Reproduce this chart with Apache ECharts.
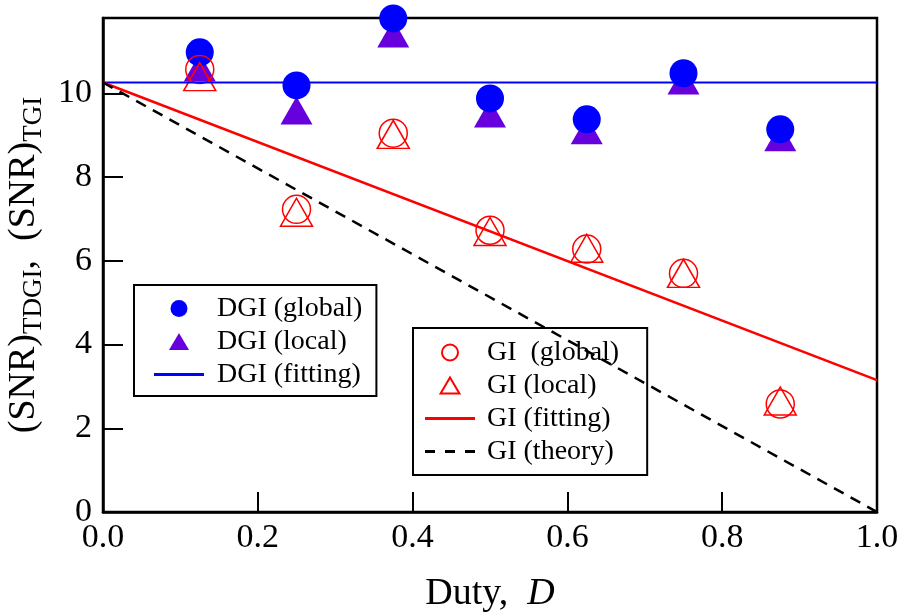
<!DOCTYPE html>
<html>
<head>
<meta charset="utf-8">
<script src="https://cdn.jsdelivr.net/npm/echarts@6/dist/echarts.min.js"></script>
<style>
    html, body {margin: 0; padding: 0; background: #fff;}
    #main {width: 902px; height: 616px;}
</style>
</head>
<body>
<div id="main"></div>
<script>
var duty = [0.125, 0.25, 0.375, 0.5, 0.625, 0.75, 0.875];
var dgiGlobal = [10.98, 10.19, 11.79, 9.88, 9.38, 10.48, 9.14];
var dgiLocal = [10.62, 9.59, 11.43, 9.52, 9.12, 10.31, 8.95];
var giGlobal = [10.57, 7.23, 9.05, 6.73, 6.28, 5.70, 2.58];
var giLocal = [10.40, 7.16, 9.02, 6.70, 6.30, 5.70, 2.65];

// fitted / theory lines, end points at D = 0 and D = 1
var lineX = [0, 1];
var dgiFit = [10.26, 10.26];
var giFit = [10.26, 3.15];
var giTheory = [10.26, 0];

var xTicks = [0, 0.2, 0.4, 0.6, 0.8, 1.0];
var yTicks = [0, 2, 4, 6, 8, 10];

var FONT = 'Liberation Serif';

// legend icons
var TRI = 'path://M10,0L20,17L0,17Z';
var BAR = 'path://M0,0h50v3h-50z';
var DASH = 'path://M0,0h10v3h-10z M20,0h10v3h-10z M40,0h10v3h-10z';

function pairs(xs, ys) {
    var out = [];
    for (var i = 0; i < xs.length; i++) {
        out.push([xs[i], ys[i]]);
    }
    return out;
}

function hollow(color) {
    return {color: 'rgba(255,255,255,0)', borderColor: color, borderWidth: 1.5, opacity: 1};
}

var myChart = echarts.init(document.getElementById('main'));
var option = {
    animation: false,
    backgroundColor: '#fff',
    grid: {
        left: 103, right: 25, top: 18, bottom: 104,
        outerBoundsMode: 'none',
        show: true, borderColor: '#000', borderWidth: 2.5
    },
    legend: [
        {
            orient: 'vertical', left: 134, top: 285,
            padding: [7, 14, 5, 20], itemGap: 0, itemWidth: 50, itemHeight: 17,
            symbolKeepAspect: true,
            borderColor: '#000', borderWidth: 2, selectedMode: false,
            data: [
                {name: 'DGI (global)', icon: 'circle'},
                {name: 'DGI (local)', icon: TRI},
                {name: 'DGI (fitting)', icon: BAR}
            ],
            textStyle: {fontFamily: FONT, fontSize: 28, color: '#000', lineHeight: 33, padding: [0, 0, 0, 8]}
        },
        {
            orient: 'vertical', left: 413, top: 328,
            padding: [8, 28, 7, 12], itemGap: 0, itemWidth: 50, itemHeight: 16,
            symbolKeepAspect: true,
            borderColor: '#000', borderWidth: 2, selectedMode: false,
            data: [
                {name: 'GI  (global)', icon: 'circle'},
                {name: 'GI (local)', icon: TRI},
                {name: 'GI (fitting)', icon: BAR},
                {name: 'GI (theory)', icon: DASH}
            ],
            textStyle: {fontFamily: FONT, fontSize: 28, color: '#000', lineHeight: 33, padding: [0, 0, 0, 7]}
        }
    ],
    xAxis: {
        type: 'value', min: 0, max: 1, interval: 0.2,
        name: '{a|Duty,  }{b|D}', nameLocation: 'middle', nameGap: 63,
        nameTextStyle: {
            rich: {
                a: {fontFamily: FONT, fontSize: 38, color: '#000'},
                b: {fontFamily: FONT, fontSize: 38, color: '#000', fontStyle: 'italic'}
            }
        },
        axisLine: {show: true, lineStyle: {color: '#000', width: 2.5}},
        axisTick: {show: true, inside: true, length: 20, lineStyle: {color: '#000', width: 2}},
        axisLabel: {
            fontFamily: FONT, fontSize: 34, color: '#000', margin: 9,
            formatter: function (v) {
                return xTicks.indexOf(v) >= 0 ? v.toFixed(1) : '';
            }
        },
        splitLine: {show: false}
    },
    yAxis: {
        type: 'value', min: 0, max: 11.8, interval: 2,
        name: '{m|(SNR)}{s|TDGI}{m|,  (SNR)}{s|TGI}', nameLocation: 'middle', nameGap: 52,
        nameRotate: 90,
        nameTextStyle: {
            rich: {
                m: {fontFamily: FONT, fontSize: 38, color: '#000', lineHeight: 46, verticalAlign: 'middle'},
                s: {fontFamily: FONT, fontSize: 27, color: '#000', lineHeight: 27, verticalAlign: 'bottom'}
            }
        },
        axisLine: {show: true, lineStyle: {color: '#000', width: 2.5}},
        axisTick: {show: true, inside: true, length: 20, lineStyle: {color: '#000', width: 2}},
        axisLabel: {
            fontFamily: FONT, fontSize: 34, color: '#000', margin: 11, showMaxLabel: false,
            formatter: function (v) {
                return yTicks.indexOf(v) >= 0 ? String(v) : '';
            }
        },
        splitLine: {show: false}
    },
    series: [
        {
            name: 'DGI (fitting)', type: 'line', data: pairs(lineX, dgiFit), symbol: 'none',
            lineStyle: {color: '#0000ff', width: 2}, itemStyle: {color: '#0000ff'}
        },
        {
            name: 'GI (fitting)', type: 'line', data: pairs(lineX, giFit), symbol: 'none',
            lineStyle: {color: '#ff0000', width: 2.5}, itemStyle: {color: '#ff0000'}
        },
        {
            name: 'GI (theory)', type: 'line', data: pairs(lineX, giTheory), symbol: 'none',
            lineStyle: {color: '#000', width: 2.5, type: [11, 8]}, itemStyle: {color: '#000'}
        },
        {
            name: 'DGI (local)', type: 'scatter', data: pairs(duty, dgiLocal),
            symbol: 'triangle', symbolSize: [32, 28], itemStyle: {color: '#6600dd', opacity: 1}
        },
        {
            name: 'DGI (global)', type: 'scatter', data: pairs(duty, dgiGlobal),
            symbol: 'circle', symbolSize: 28, itemStyle: {color: '#0000ff', opacity: 1}
        },
        {
            name: 'GI (local)', type: 'scatter', data: pairs(duty, giLocal),
            symbol: 'triangle', symbolSize: [32, 28], itemStyle: hollow('#ff0000')
        },
        {
            name: 'GI  (global)', type: 'scatter', data: pairs(duty, giGlobal),
            symbol: 'circle', symbolSize: 28, itemStyle: hollow('#ff0000')
        }
    ]
};
myChart.setOption(option);
</script>
</body>
</html>
